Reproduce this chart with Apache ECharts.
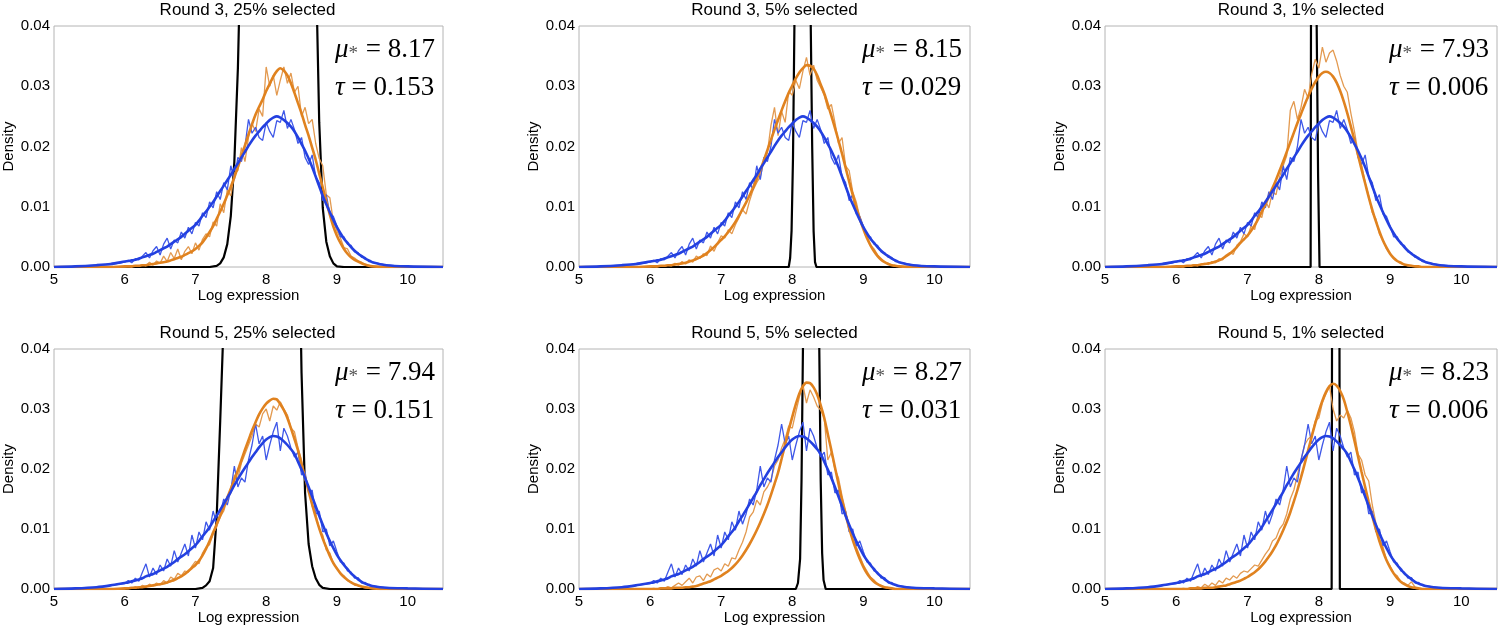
<!DOCTYPE html>
<html>
<head>
<meta charset="utf-8">
<script src="https://cdn.jsdelivr.net/npm/echarts@6/dist/echarts.min.js"></script>
<style>
html,body{margin:0;padding:0;background:#fff;}
#chart{width:1500px;height:629px;}
</style>
</head>
<body>
<div id="chart"></div>
<script>
// ---------- shared x grid (Log expression) ----------
const xN = [5.0,5.3,5.6,5.8,
6.00,6.05,6.10,6.15,6.20,6.25,6.30,6.35,6.40,6.45,
6.50,6.55,6.60,6.65,6.70,6.75,6.80,6.85,6.90,6.95,
7.00,7.05,7.10,7.15,7.20,7.25,7.30,7.35,7.40,7.45,
7.50,7.55,7.60,7.65,7.70,7.75,7.80,7.85,7.90,7.95,
8.00,8.05,8.10,8.15,8.20,8.25,8.30,8.35,8.40,8.45,
8.50,8.55,8.60,8.65,8.70,8.75,8.80,8.85,8.90,8.95,
9.00,9.05,9.10,9.15,9.20,9.25,9.30,9.35,9.40,9.45,
9.50,9.70,10.0,10.5];

// ---------- blue (population) curves ----------
const blueSmoothR3 = [0,0.0001,0.0003,0.0005,
0.0009,0.0010,0.0011,0.0012,0.0014,0.0016,0.0018,0.0020,0.0022,0.0025,
0.0028,0.0031,0.0034,0.0038,0.0042,0.0046,0.0050,0.0055,0.0060,0.0065,
0.0070,0.0077,0.0085,0.0092,0.0100,0.0108,0.0117,0.0126,0.0135,0.0144,
0.0153,0.0163,0.0172,0.0182,0.0191,0.0201,0.0210,0.0218,0.0225,0.0232,
0.0238,0.0244,0.0248,0.0250,0.0248,0.0244,0.0239,0.0233,0.0225,0.0215,
0.0204,0.0193,0.0180,0.0166,0.0150,0.0134,0.0118,0.0104,0.0091,0.0078,
0.0066,0.0056,0.0047,0.0040,0.0033,0.0027,0.0022,0.0018,0.0014,0.0011,
0.0008,0.0003,0.0001,0];
const blueNoisyR3 = [0,0.0001,0.0003,0.0004,
0.0008,0.0011,0.0007,0.0014,0.0012,0.0018,0.0024,0.0015,0.0027,0.0034,
0.0020,0.0038,0.0048,0.0030,0.0045,0.0040,0.0058,0.0048,0.0066,0.0055,
0.0074,0.0068,0.0090,0.0082,0.0108,0.0098,0.0125,0.0112,0.0140,0.0128,
0.0168,0.0145,0.0182,0.0175,0.0200,0.0245,0.0222,0.0232,0.0215,0.0210,
0.0240,0.0225,0.0215,0.0243,0.0240,0.0260,0.0230,0.0245,0.0228,0.0205,
0.0215,0.0182,0.0170,0.0186,0.0150,0.0140,0.0110,0.0120,0.0088,0.0084,
0.0068,0.0050,0.0050,0.0038,0.0036,0.0025,0.0024,0.0016,0.0016,0.0009,
0.0008,0.0003,0.0001,0];
const blueSmoothR5 = [0,0.0001,0.0003,0.0006,
0.0010,0.0011,0.0013,0.0014,0.0016,0.0018,0.0021,0.0023,0.0025,0.0028,
0.0031,0.0034,0.0037,0.0041,0.0045,0.0050,0.0054,0.0058,0.0063,0.0068,
0.0073,0.0080,0.0088,0.0095,0.0103,0.0113,0.0122,0.0132,0.0142,0.0152,
0.0162,0.0173,0.0183,0.0193,0.0202,0.0211,0.0220,0.0228,0.0236,0.0243,
0.0249,0.0253,0.0255,0.0254,0.0251,0.0246,0.0240,0.0233,0.0225,0.0212,
0.0199,0.0185,0.0170,0.0154,0.0138,0.0122,0.0107,0.0093,0.0080,0.0068,
0.0057,0.0048,0.0040,0.0033,0.0026,0.0021,0.0016,0.0012,0.0009,0.0007,
0.0005,0.0002,0.0001,0];
const blueNoisyR5 = [0,0.0001,0.0002,0.0006,
0.0009,0.0014,0.0010,0.0018,0.0013,0.0028,0.0042,0.0020,0.0035,0.0024,
0.0040,0.0030,0.0050,0.0038,0.0064,0.0045,0.0060,0.0075,0.0055,0.0090,
0.0068,0.0095,0.0082,0.0112,0.0098,0.0130,0.0108,0.0125,0.0150,0.0140,
0.0165,0.0205,0.0170,0.0185,0.0178,0.0215,0.0240,0.0275,0.0242,0.0255,
0.0215,0.0240,0.0262,0.0278,0.0230,0.0268,0.0255,0.0235,0.0220,0.0228,
0.0190,0.0195,0.0160,0.0165,0.0125,0.0130,0.0095,0.0100,0.0072,0.0080,
0.0062,0.0045,0.0043,0.0030,0.0028,0.0018,0.0019,0.0010,0.0011,0.0006,
0.0005,0.0002,0.0001,0];

// ---------- orange (selected) curves, one pair per panel ----------
const orangeSmoothR3p25 = [0,0,0,0,
0.0001,0.0001,0.0001,0.0002,0.0002,0.0003,0.0003,0.0004,0.0005,0.0006,
0.0007,0.0008,0.0009,0.0011,0.0013,0.0015,0.0017,0.0020,0.0023,0.0026,
0.0030,0.0035,0.0041,0.0049,0.0058,0.0068,0.0080,0.0092,0.0105,0.0119,
0.0133,0.0149,0.0166,0.0184,0.0202,0.0220,0.0237,0.0253,0.0266,0.0278,
0.0292,0.0304,0.0316,0.0325,0.0330,0.0326,0.0318,0.0305,0.0289,0.0272,
0.0255,0.0236,0.0218,0.0198,0.0178,0.0155,0.0132,0.0109,0.0087,0.0067,
0.0052,0.0040,0.0030,0.0022,0.0016,0.0012,0.0009,0.0006,0.0004,0.0002,
0.0001,0,0,0];
const orangeNoisyR3p25 = [0,0,0,0,
0.0000,0.0001,0.0000,0.0002,0.0001,0.0004,0.0002,0.0008,0.0003,0.0010,
0.0006,0.0018,0.0009,0.0024,0.0014,0.0030,0.0012,0.0026,0.0034,0.0022,
0.0040,0.0028,0.0046,0.0055,0.0050,0.0075,0.0068,0.0105,0.0090,0.0128,
0.0118,0.0155,0.0160,0.0198,0.0175,0.0215,0.0238,0.0225,0.0262,0.0250,
0.0332,0.0300,0.0318,0.0285,0.0310,0.0332,0.0305,0.0322,0.0290,0.0300,
0.0250,0.0265,0.0238,0.0245,0.0205,0.0180,0.0168,0.0120,0.0115,0.0075,
0.0060,0.0048,0.0032,0.0030,0.0018,0.0015,0.0010,0.0008,0.0004,0.0003,
0.0001,0,0,0];
const orangeSmoothR3p5 = [0,0,0,0,
0.0001,0.0001,0.0001,0.0002,0.0002,0.0003,0.0003,0.0004,0.0005,0.0006,
0.0007,0.0009,0.0011,0.0013,0.0016,0.0019,0.0023,0.0028,0.0033,0.0039,
0.0045,0.0051,0.0058,0.0066,0.0075,0.0085,0.0096,0.0107,0.0119,0.0132,
0.0146,0.0161,0.0177,0.0194,0.0211,0.0228,0.0244,0.0260,0.0275,0.0289,
0.0301,0.0313,0.0323,0.0330,0.0335,0.0334,0.0329,0.0318,0.0303,0.0288,
0.0270,0.0251,0.0231,0.0210,0.0188,0.0165,0.0142,0.0120,0.0099,0.0080,
0.0063,0.0048,0.0036,0.0026,0.0018,0.0012,0.0008,0.0005,0.0003,0.0002,
0.0001,0,0,0];
const orangeNoisyR3p5 = [0,0,0,0,
0.0000,0.0001,0.0000,0.0002,0.0001,0.0003,0.0002,0.0006,0.0003,0.0009,
0.0005,0.0012,0.0008,0.0018,0.0014,0.0022,0.0019,0.0035,0.0026,0.0040,
0.0052,0.0048,0.0062,0.0055,0.0070,0.0082,0.0095,0.0088,0.0110,0.0128,
0.0140,0.0150,0.0175,0.0190,0.0235,0.0265,0.0218,0.0258,0.0240,0.0292,
0.0285,0.0310,0.0296,0.0325,0.0348,0.0318,0.0335,0.0310,0.0298,0.0285,
0.0262,0.0270,0.0240,0.0205,0.0215,0.0168,0.0160,0.0125,0.0108,0.0082,
0.0066,0.0052,0.0036,0.0030,0.0020,0.0014,0.0008,0.0006,0.0003,0.0002,
0.0001,0,0,0];
const orangeSmoothR3p1 = [0,0,0,0,
0.0001,0.0001,0.0001,0.0002,0.0002,0.0003,0.0003,0.0004,0.0005,0.0006,
0.0007,0.0009,0.0011,0.0014,0.0018,0.0022,0.0027,0.0033,0.0040,0.0046,
0.0052,0.0060,0.0069,0.0080,0.0092,0.0104,0.0117,0.0131,0.0145,0.0160,
0.0175,0.0191,0.0207,0.0223,0.0239,0.0254,0.0269,0.0283,0.0296,0.0307,
0.0316,0.0322,0.0324,0.0322,0.0316,0.0306,0.0292,0.0275,0.0255,0.0233,
0.0210,0.0186,0.0162,0.0139,0.0116,0.0095,0.0076,0.0059,0.0044,0.0032,
0.0022,0.0015,0.0010,0.0007,0.0004,0.0003,0.0002,0.0001,0.0001,0,
0,0,0,0];
const orangeNoisyR3p1 = [0,0,0,0,
0.0000,0.0001,0.0000,0.0002,0.0001,0.0004,0.0002,0.0005,0.0006,0.0004,
0.0009,0.0007,0.0014,0.0012,0.0020,0.0024,0.0021,0.0036,0.0042,0.0055,
0.0050,0.0068,0.0062,0.0088,0.0082,0.0110,0.0098,0.0125,0.0120,0.0150,
0.0168,0.0185,0.0260,0.0275,0.0245,0.0265,0.0295,0.0280,0.0320,0.0345,
0.0330,0.0365,0.0340,0.0355,0.0360,0.0342,0.0318,0.0300,0.0290,0.0255,
0.0225,0.0190,0.0170,0.0140,0.0118,0.0090,0.0080,0.0055,0.0045,0.0030,
0.0022,0.0014,0.0010,0.0006,0.0004,0.0002,0.0001,0.0001,0,0,
0,0,0,0];
const orangeSmoothR5p25 = [0,0,0,0,
0.0001,0.0001,0.0002,0.0002,0.0003,0.0003,0.0004,0.0005,0.0006,0.0007,
0.0008,0.0009,0.0011,0.0013,0.0015,0.0018,0.0021,0.0025,0.0030,0.0035,
0.0040,0.0047,0.0056,0.0067,0.0080,0.0094,0.0108,0.0122,0.0137,0.0152,
0.0167,0.0182,0.0198,0.0215,0.0232,0.0248,0.0264,0.0278,0.0291,0.0301,
0.0309,0.0314,0.0317,0.0316,0.0308,0.0298,0.0285,0.0268,0.0250,0.0231,
0.0208,0.0186,0.0163,0.0141,0.0120,0.0101,0.0084,0.0069,0.0055,0.0043,
0.0034,0.0026,0.0020,0.0015,0.0011,0.0008,0.0006,0.0004,0.0003,0.0002,
0.0001,0,0,0];
const orangeNoisyR5p25 = [0,0,0,0,
0.0000,0.0002,0.0001,0.0004,0.0002,0.0006,0.0004,0.0008,0.0005,0.0010,
0.0007,0.0014,0.0010,0.0020,0.0016,0.0026,0.0022,0.0030,0.0028,0.0038,
0.0046,0.0042,0.0060,0.0070,0.0074,0.0092,0.0104,0.0120,0.0130,0.0150,
0.0160,0.0190,0.0185,0.0210,0.0225,0.0240,0.0255,0.0275,0.0270,0.0292,
0.0300,0.0280,0.0305,0.0298,0.0312,0.0300,0.0290,0.0268,0.0262,0.0235,
0.0215,0.0182,0.0170,0.0138,0.0125,0.0100,0.0090,0.0065,0.0060,0.0042,
0.0035,0.0025,0.0022,0.0014,0.0012,0.0007,0.0006,0.0003,0.0002,0.0001,
0.0001,0,0,0];
const orangeSmoothR5p5 = [0,0,0,0,
0,0,0,0.0001,0.0001,0.0001,0.0001,0.0002,0.0002,0.0002,
0.0003,0.0003,0.0004,0.0005,0.0007,0.0009,0.0011,0.0013,0.0016,0.0019,
0.0022,0.0026,0.0030,0.0035,0.0041,0.0048,0.0056,0.0065,0.0075,0.0086,
0.0098,0.0111,0.0125,0.0140,0.0157,0.0175,0.0194,0.0217,0.0241,0.0265,
0.0287,0.0308,0.0326,0.0338,0.0344,0.0343,0.0336,0.0324,0.0306,0.0285,
0.0258,0.0231,0.0203,0.0175,0.0148,0.0124,0.0102,0.0082,0.0065,0.0050,
0.0037,0.0026,0.0018,0.0012,0.0008,0.0005,0.0003,0.0002,0.0001,0,
0,0,0,0];
const orangeNoisyR5p5 = [0,0,0,0,
0,0.0001,0,0.0002,0.0001,0.0004,0.0002,0.0006,0.0010,0.0006,
0.0012,0.0018,0.0010,0.0020,0.0022,0.0014,0.0025,0.0020,0.0032,0.0035,
0.0030,0.0042,0.0038,0.0052,0.0050,0.0065,0.0078,0.0095,0.0120,0.0128,
0.0148,0.0140,0.0162,0.0170,0.0182,0.0205,0.0215,0.0235,0.0250,0.0272,
0.0268,0.0295,0.0320,0.0340,0.0310,0.0332,0.0320,0.0305,0.0298,0.0285,
0.0215,0.0228,0.0200,0.0185,0.0155,0.0130,0.0105,0.0095,0.0070,0.0055,
0.0040,0.0030,0.0020,0.0015,0.0008,0.0006,0.0003,0.0002,0.0001,0,
0,0,0,0];
const orangeSmoothR5p1 = [0,0,0,0,
0,0,0,0,0.0001,0.0001,0.0001,0.0001,0.0002,0.0002,
0.0002,0.0003,0.0004,0.0005,0.0006,0.0008,0.0010,0.0012,0.0014,0.0017,
0.0020,0.0024,0.0028,0.0033,0.0039,0.0046,0.0054,0.0063,0.0073,0.0085,
0.0098,0.0112,0.0128,0.0146,0.0165,0.0186,0.0208,0.0231,0.0254,0.0276,
0.0296,0.0314,0.0328,0.0338,0.0342,0.0339,0.0330,0.0316,0.0295,0.0272,
0.0247,0.0221,0.0195,0.0170,0.0145,0.0122,0.0100,0.0080,0.0063,0.0048,
0.0036,0.0026,0.0018,0.0012,0.0008,0.0005,0.0003,0.0002,0.0001,0,
0,0,0,0];
const orangeNoisyR5p1 = [0,0,0,0,
0,0,0.0001,0,0.0002,0.0001,0.0004,0.0002,0.0008,0.0004,
0.0010,0.0006,0.0014,0.0010,0.0018,0.0015,0.0022,0.0018,0.0026,0.0030,
0.0028,0.0034,0.0040,0.0038,0.0048,0.0058,0.0066,0.0080,0.0085,0.0100,
0.0108,0.0125,0.0150,0.0165,0.0190,0.0215,0.0240,0.0250,0.0255,0.0280,
0.0285,0.0310,0.0325,0.0338,0.0300,0.0280,0.0290,0.0285,0.0298,0.0285,
0.0262,0.0225,0.0215,0.0190,0.0180,0.0140,0.0110,0.0085,0.0070,0.0048,
0.0038,0.0026,0.0022,0.0012,0.0010,0.0006,0.0012,0.0003,0.0001,0,
0,0,0,0];

// ---------- black (selection window) curves: [x, density] ----------
const black1 = [[5,0],[7.2,0],[7.3,0.0002],[7.35,0.0006],[7.4,0.0016],[7.45,0.0038],[7.5,0.0085],[7.55,0.0175],[7.6,0.033],[7.65,0.058],[7.7,0.095],[8.2,0.2],[8.65,0.09],[8.7,0.052],[8.75,0.024],[8.8,0.0098],[8.85,0.0042],[8.9,0.0018],[8.95,0.0006],[9.0,0.0001],[9.1,0],[10.5,0]];
const black2 = [[5,0],[7.95,0],[7.97,0.0015],[7.99,0.006],[8.01,0.018],[8.03,0.04],[8.05,0.08],[8.15,0.3],[8.24,0.08],[8.26,0.04],[8.28,0.02],[8.3,0.006],[8.32,0.0008],[8.34,0],[10.5,0]];
const black3 = [[5,0],[7.885,0],[7.89,0.04],[7.895,0.1],[7.93,0.5],[7.965,0.1],[7.97,0.04],[7.99,0.015],[8.01,0],[10.5,0]];
const black4 = [[5,0],[7.0,0],[7.1,0.0002],[7.15,0.0006],[7.2,0.0013],[7.25,0.0035],[7.3,0.012],[7.35,0.028],[7.4,0.045],[7.45,0.07],[7.5,0.1],[8.0,0.2],[8.4,0.1],[8.45,0.07],[8.5,0.036],[8.55,0.016],[8.6,0.0075],[8.65,0.0038],[8.7,0.0018],[8.75,0.0007],[8.8,0.0002],[8.9,0],[10.5,0]];
const black5 = [[5,0],[8.05,0],[8.08,0.001],[8.11,0.005],[8.13,0.018],[8.15,0.04],[8.17,0.08],[8.27,0.3],[8.36,0.08],[8.38,0.04],[8.4,0.018],[8.42,0.006],[8.44,0.0015],[8.47,0],[10.5,0]];
const black6 = [[5,0],[8.18,0],[8.185,0.04],[8.19,0.1],[8.24,0.6],[8.285,0.1],[8.29,0.04],[8.295,0],[10.5,0]];

// ---------- panel texts ----------
const titles = ['Round 3, 25% selected','Round 3, 5% selected','Round 3, 1% selected',
                'Round 5, 25% selected','Round 5, 5% selected','Round 5, 1% selected'];
const muValues = ['8.17','8.15','7.93','7.94','8.27','8.23'];
const tauValues = ['0.153','0.029','0.006','0.151','0.031','0.006'];
const xTickLabels = [5,6,7,8,9,10];
const yTickLabels = ['0.00','0.01','0.02','0.03','0.04'];

const panelData = [
  {bs: blueSmoothR3, bn: blueNoisyR3, os: orangeSmoothR3p25, on: orangeNoisyR3p25, bk: black1},
  {bs: blueSmoothR3, bn: blueNoisyR3, os: orangeSmoothR3p5,  on: orangeNoisyR3p5,  bk: black2},
  {bs: blueSmoothR3, bn: blueNoisyR3, os: orangeSmoothR3p1,  on: orangeNoisyR3p1,  bk: black3},
  {bs: blueSmoothR5, bn: blueNoisyR5, os: orangeSmoothR5p25, on: orangeNoisyR5p25, bk: black4},
  {bs: blueSmoothR5, bn: blueNoisyR5, os: orangeSmoothR5p5,  on: orangeNoisyR5p5,  bk: black5},
  {bs: blueSmoothR5, bn: blueNoisyR5, os: orangeSmoothR5p1,  on: orangeNoisyR5p1,  bk: black6}
];

// ---------- layout ----------
const colBox = [{left:52,width:391},{left:579,width:391},{left:1105,width:392}];
const rowBox = [{top:26,height:241},{top:349,height:240}];
const SANS = '"Liberation Sans", Arial, Helvetica, sans-serif';
const SERIF = '"Liberation Serif", "Times New Roman", serif';
const C = {blueThick:'#2340e0', blueThin:'#3f58e8', orThick:'#e0821f', orThin:'#e39a50', black:'#000'};

const grids=[], xAxes=[], yAxes=[], series=[], graphics=[];
const pair = arr => xN.map((x,i)=>[x,arr[i]]);

panelData.forEach((p,i)=>{
  const r = Math.floor(i/3), c = i%3;
  const g = {left:colBox[c].left, top:rowBox[r].top, width:colBox[c].width, height:rowBox[r].height};
  grids.push({left:g.left, top:g.top, width:g.width, height:g.height, show:true,
    borderColor:'#b4b4b4', borderWidth:1, backgroundColor:'transparent', containLabel:false});
  xAxes.push({gridIndex:i, type:'value', min:xTickLabels[0], max:10.5, interval:1,
    axisLine:{show:false}, axisTick:{show:false}, splitLine:{show:false},
    axisLabel:{showMaxLabel:false, showMinLabel:true, fontSize:15, color:'#000', fontFamily:SANS, margin:5},
    name:'Log expression', nameLocation:'middle', nameGap:21,
    nameTextStyle:{fontSize:15, color:'#000', fontFamily:SANS}});
  yAxes.push({gridIndex:i, type:'value', min:0, max:0.04, interval:0.01,
    axisLine:{show:false}, axisTick:{show:false}, splitLine:{show:false},
    axisLabel:{fontSize:15, color:'#000', fontFamily:SANS, margin:4,
      formatter:v=>yTickLabels[Math.round(v*100)]},
    name:'Density', nameLocation:'middle', nameGap:38, nameRotate:90,
    nameTextStyle:{fontSize:15, color:'#000', fontFamily:SANS}});
  const common = {type:'line', xAxisIndex:i, yAxisIndex:i, showSymbol:false, symbol:'none', clip:true, animation:false, silent:true};
  series.push(Object.assign({}, common, {data:p.bk, lineStyle:{color:C.black, width:2.2}, z:2}));
  series.push(Object.assign({}, common, {data:pair(p.on), lineStyle:{color:C.orThin, width:1.3}, z:3}));
  series.push(Object.assign({}, common, {data:pair(p.bn), lineStyle:{color:C.blueThin, width:1.3}, z:4}));
  series.push(Object.assign({}, common, {data:pair(p.os), smooth:0.3, lineStyle:{color:C.orThick, width:2.6}, z:5}));
  series.push(Object.assign({}, common, {data:pair(p.bs), smooth:0.3, lineStyle:{color:C.blueThick, width:2.6}, z:6}));

  // panel title
  graphics.push({type:'text', x:g.left+g.width/2, y:g.top-16, z:10,
    style:{text:titles[i], fontSize:17, fontFamily:SANS, fill:'#000', align:'center', verticalAlign:'middle'}});
  // annotations
  const ax = g.left + g.width - 108;
  graphics.push({type:'text', x:ax, y:g.top+24, z:10,
    style:{text:'{m|μ}{s|*}{n| = '+muValues[i]+'}', align:'left', verticalAlign:'middle', fill:'#000',
      rich:{
        m:{fontFamily:SERIF, fontStyle:'italic', fontSize:27, fill:'#000'},
        s:{fontFamily:SERIF, fontSize:19, fill:'#555', verticalAlign:'bottom', lineHeight:22, padding:[0,1,0,0]},
        n:{fontFamily:SERIF, fontSize:27, fill:'#000'}
      }}});
  graphics.push({type:'text', x:ax, y:g.top+62, z:10,
    style:{text:'{t|τ}{n| = '+tauValues[i]+'}', align:'left', verticalAlign:'middle', fill:'#000',
      rich:{
        t:{fontFamily:SERIF, fontStyle:'italic', fontSize:27, fill:'#000'},
        n:{fontFamily:SERIF, fontSize:27, fill:'#000'}
      }}});
});

const chart = echarts.init(document.getElementById('chart'), null, {renderer:'canvas'});
chart.setOption({
  animation:false,
  backgroundColor:'#fff',
  grid:grids, xAxis:xAxes, yAxis:yAxes, series:series, graphic:graphics
});
</script>
</body>
</html>
